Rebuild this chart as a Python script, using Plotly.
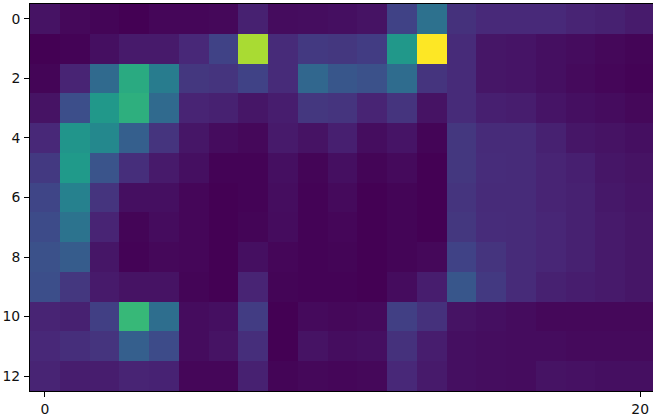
import plotly.graph_objects as go

row_0 = [0.05, 0.02, 0.01, 0.0, 0.015, 0.015, 0.02, 0.09, 0.03, 0.035, 0.04, 0.05, 0.2, 0.37, 0.14, 0.115, 0.115, 0.115, 0.1, 0.09, 0.075]
row_1 = [0.0, 0.005, 0.04, 0.07, 0.07, 0.11, 0.2, 0.87, 0.12, 0.17, 0.16, 0.18, 0.53, 1.0, 0.12, 0.06, 0.055, 0.04, 0.03, 0.02, 0.01]
row_2 = [0.01, 0.1, 0.34, 0.61, 0.42, 0.16, 0.15, 0.2, 0.12, 0.33, 0.27, 0.25, 0.35, 0.15, 0.12, 0.06, 0.055, 0.04, 0.025, 0.015, 0.005]
row_3 = [0.05, 0.24, 0.53, 0.63, 0.34, 0.1, 0.09, 0.06, 0.08, 0.16, 0.15, 0.1, 0.15, 0.05, 0.12, 0.085, 0.08, 0.055, 0.04, 0.03, 0.02]
row_4 = [0.11, 0.52, 0.47, 0.3, 0.15, 0.06, 0.03, 0.02, 0.07, 0.05, 0.085, 0.035, 0.055, 0.01, 0.16, 0.12, 0.12, 0.09, 0.06, 0.05, 0.04]
row_5 = [0.17, 0.54, 0.26, 0.13, 0.07, 0.04, 0.005, 0.005, 0.04, 0.01, 0.04, 0.01, 0.025, 0.0, 0.16, 0.125, 0.12, 0.1, 0.085, 0.06, 0.05]
row_6 = [0.21, 0.44, 0.15, 0.04, 0.04, 0.015, 0.0, 0.005, 0.035, 0.005, 0.025, 0.0, 0.01, 0.0, 0.15, 0.12, 0.12, 0.1, 0.09, 0.065, 0.055]
row_7 = [0.23, 0.38, 0.1, 0.01, 0.03, 0.015, 0.0, 0.01, 0.03, 0.005, 0.015, 0.0, 0.01, 0.0, 0.16, 0.125, 0.12, 0.105, 0.09, 0.07, 0.06]
row_8 = [0.25, 0.29, 0.06, 0.005, 0.02, 0.015, 0.0, 0.04, 0.015, 0.005, 0.01, 0.0, 0.01, 0.02, 0.2, 0.15, 0.12, 0.105, 0.09, 0.07, 0.06]
row_9 = [0.24, 0.16, 0.07, 0.05, 0.05, 0.01, 0.0, 0.1, 0.01, 0.005, 0.005, 0.0, 0.03, 0.08, 0.27, 0.17, 0.12, 0.09, 0.08, 0.07, 0.06]
row_10 = [0.1, 0.09, 0.19, 0.67, 0.36, 0.03, 0.04, 0.18, 0.0, 0.025, 0.02, 0.025, 0.19, 0.14, 0.05, 0.04, 0.03, 0.02, 0.02, 0.02, 0.02]
row_11 = [0.11, 0.13, 0.15, 0.3, 0.23, 0.03, 0.05, 0.13, 0.0, 0.05, 0.035, 0.04, 0.14, 0.08, 0.04, 0.035, 0.03, 0.03, 0.025, 0.025, 0.025]
row_12 = [0.1, 0.08, 0.08, 0.1, 0.095, 0.015, 0.015, 0.09, 0.01, 0.02, 0.015, 0.02, 0.11, 0.07, 0.04, 0.035, 0.03, 0.05, 0.045, 0.04, 0.04]

rows = [row_0, row_1, row_2, row_3, row_4, row_5, row_6, row_7, row_8, row_9, row_10, row_11, row_12]
x_ticks = [0, 20]
y_ticks = [0, 2, 4, 6, 8, 10, 12]

fig = go.Figure(go.Heatmap(z=rows, colorscale="Viridis", zmin=0, zmax=1, showscale=False, hoverinfo="skip"))

axis_style = dict(
    showgrid=False,
    zeroline=False,
    showline=True,
    linecolor="black",
    linewidth=1,
    ticks="outside",
    ticklen=5,
    tickwidth=1,
    tickcolor="black",
    tickmode="array",
    automargin=False,
)
fig.update_xaxes(range=[-0.5, 20.43], tickvals=x_ticks, mirror=True, **axis_style)
fig.update_yaxes(range=[12.5, -0.5], tickvals=y_ticks, ticklabelstandoff=1, **axis_style)

fig.update_layout(
    width=653,
    height=417,
    margin=dict(l=30, r=0, t=4, b=26),
    paper_bgcolor="white",
    plot_bgcolor="white",
    font=dict(family="DejaVu Sans", size=13.9, color="#111111"),
)

# the page body has a default margin that would shift the chart
fig.write_html(
    "out.html",
    config={"displayModeBar": False},
    post_script="document.body.style.margin = '0';",
)
